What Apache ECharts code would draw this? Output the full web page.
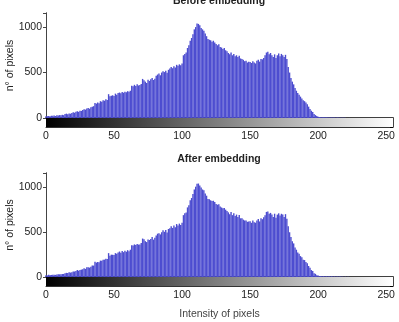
<!DOCTYPE html>
<html>
<head>
<meta charset="utf-8">
<script src="https://cdn.jsdelivr.net/npm/echarts@6/dist/echarts.min.js"></script>
<style>
  html, body { margin: 0; padding: 0; background: #fff; }
  #chart { width: 399px; height: 322px; }
</style>
</head>
<body>
<div id="chart"></div>
<script>
// histogram counts, one per gray level 0..255
const beforeCounts = [
  18, 20, 22, 19, 25, 24, 28, 22, 30, 27,
  32, 29, 35, 31, 45, 48, 42, 50, 47, 55,
  62, 58, 70, 75, 68, 80, 78, 88, 95, 92,
  105, 110, 102, 118, 125, 130, 165, 158, 170, 162,
  185, 178, 195, 190, 205, 198, 262, 238, 245, 250,
  242, 268, 255, 275, 280, 272, 285, 278, 290, 282,
  295, 288, 300, 355, 348, 365, 352, 370, 358, 362,
  375, 430, 415, 400, 385, 420, 408, 425, 440, 418,
  432, 465, 478, 490, 470, 500, 515, 505, 520, 498,
  530, 545, 560, 548, 570, 555, 585, 575, 590, 580,
  600, 690, 705, 720, 770, 800, 850, 880, 920, 975,
  1000, 1040, 1035, 1020, 990, 975, 960, 930, 900, 870,
  860, 855, 840, 850, 830, 815, 800, 810, 780, 775,
  760, 770, 745, 735, 715, 700, 720, 690, 705, 680,
  690, 670, 685, 655, 650, 640, 625, 630, 610, 620,
  615, 605, 625, 610, 600, 630, 640, 620, 650, 645,
  660, 690, 720, 730, 700, 715, 690, 670, 700, 660,
  690, 710, 680, 705, 690, 670, 695, 650, 560, 500,
  440, 400, 370, 330, 300, 275, 255, 235, 215, 195,
  185, 170, 150, 125, 100, 80, 65, 45, 32, 22,
  15, 11, 9, 8, 8, 7, 7, 6, 6, 5,
  6, 5, 5, 4, 5, 4, 4, 3, 3, 2,
  2, 1, 1, 1, 0, 0, 0, 0, 0, 0,
  0, 0, 0, 0, 0, 0, 0, 0, 0, 0,
  0, 0, 0, 0, 0, 0, 0, 0, 0, 0,
  0, 0, 0, 0, 0, 0
];

const afterCounts = [
  20, 18, 24, 21, 23, 26, 25, 24, 28, 30,
  30, 31, 33, 34, 43, 46, 44, 52, 49, 53,
  60, 61, 68, 77, 70, 78, 82, 86, 97, 90,
  108, 107, 104, 115, 128, 127, 168, 160, 167, 165,
  182, 181, 192, 193, 202, 201, 265, 236, 248, 247,
  245, 265, 258, 272, 283, 270, 288, 276, 292, 280,
  298, 285, 303, 352, 350, 362, 355, 367, 360, 360,
  378, 427, 418, 398, 388, 417, 411, 422, 443, 415,
  435, 462, 481, 487, 473, 497, 518, 502, 523, 495,
  533, 542, 563, 545, 573, 552, 588, 572, 593, 577,
  603, 687, 708, 717, 773, 797, 853, 877, 923, 972,
  1003, 1037, 1038, 1017, 993, 972, 963, 927, 903, 867,
  863, 852, 843, 847, 833, 812, 803, 807, 783, 772,
  763, 767, 748, 732, 718, 697, 723, 687, 708, 677,
  693, 667, 688, 652, 653, 637, 628, 627, 613, 617,
  618, 602, 628, 607, 603, 627, 643, 617, 653, 642,
  663, 687, 723, 727, 703, 712, 693, 667, 703, 657,
  693, 707, 683, 702, 693, 667, 698, 647, 563, 497,
  443, 397, 373, 327, 303, 272, 258, 232, 218, 192,
  188, 167, 153, 122, 103, 77, 68, 42, 35, 19,
  17, 9, 11, 6, 9, 6, 8, 5, 7, 4,
  7, 4, 6, 3, 5, 3, 5, 2, 3, 1,
  3, 1, 2, 0, 1, 0, 0, 0, 0, 0,
  0, 0, 0, 0, 0, 0, 0, 0, 0, 0,
  0, 0, 0, 0, 0, 0, 0, 0, 0, 0,
  0, 0, 0, 0, 0, 0
];

const titles = ["Before embedding", "After embedding"];
const grayRange = [0, 255];       // colour bar, black to white
const xRange = [0, 255];
const xStep = 50;
const yRange = [0, 1155];
const yStep = 500;

const font = "Liberation Sans";
const txt = "#222";
const frame = "#444";

// vertical placement of the two panels (histogram + colour bar)
const panels = [
  { top: 13, height: 105, barH: 9 },
  { top: 173, height: 104, barH: 9 }
];

const chart = echarts.init(document.getElementById("chart"));

const grid = [], xAxis = [], yAxis = [], series = [];

panels.forEach((p, k) => {
  const g = grid.length;
  grid.push({ left: 46, right: 6, top: p.top, height: p.height, containLabel: false, outerBoundsMode: "none" });
  grid.push({ left: 46, right: 6, top: p.top + p.height, height: p.barH, containLabel: false, outerBoundsMode: "none" });

  const base = { type: "value", min: xRange[0], max: xRange[1], interval: xStep, splitLine: { show: false } };
  // histogram bottom (zero line)
  xAxis.push(Object.assign({}, base, {
    gridIndex: g, position: "bottom",
    axisLine: { lineStyle: { color: "#000", width: 1.5 } },
    axisTick: { show: false }, axisLabel: { show: false }
  }));
  // histogram top frame
  xAxis.push(Object.assign({}, base, {
    gridIndex: g, position: "top",
    axisLine: { lineStyle: { color: frame } },
    axisTick: { inside: true, length: 3, lineStyle: { color: frame } },
    axisLabel: { show: false }
  }));
  // colour bar axis with labels
  const cb = Object.assign({}, base, {
    gridIndex: g + 1, position: "bottom",
    axisLine: { lineStyle: { color: "#333" } },
    axisTick: { inside: true, length: 8, lineStyle: { color: "#666" } },
    axisLabel: { fontFamily: font, fontSize: 10.5, color: txt, margin: 4, showMaxLabel: false }
  });
  if (k === 1) {
    Object.assign(cb, {
      name: "Intensity of pixels", nameLocation: "middle", nameGap: 23, nameMoveOverlap: false,
      nameTextStyle: { fontFamily: font, fontSize: 10.5, color: "#444" }
    });
  }
  xAxis.push(cb);

  yAxis.push({
    type: "value", gridIndex: g, position: "left", min: yRange[0], max: yRange[1], interval: yStep,
    name: "n\u00b0 of pixels", nameLocation: "middle", nameGap: 30, nameMoveOverlap: false,
    nameTextStyle: { fontFamily: font, fontSize: 10.5, color: txt },
    splitLine: { show: false },
    axisLine: { show: true, lineStyle: { color: frame } },
    axisTick: { length: 2, lineStyle: { color: frame } },
    axisLabel: { fontFamily: font, fontSize: 10.5, color: txt, margin: 4, showMaxLabel: false,
      formatter: (v) => String(v) }
  });
  yAxis.push({
    type: "value", gridIndex: g, position: "right", min: yRange[0], max: yRange[1], interval: yStep,
    splitLine: { show: false },
    axisLine: { show: true, lineStyle: { color: frame } },
    axisTick: { inside: true, length: 3, lineStyle: { color: frame } },
    axisLabel: { show: false }
  });
  yAxis.push({
    type: "value", gridIndex: g + 1, position: "left", min: 0, max: 1,
    splitLine: { show: false }, axisLine: { show: true, lineStyle: { color: frame } },
    axisTick: { show: false }, axisLabel: { show: false }
  });
  yAxis.push({
    type: "value", gridIndex: g + 1, position: "right", min: 0, max: 1, interval: 0.5,
    splitLine: { show: false }, axisLine: { show: true, lineStyle: { color: frame } },
    axisTick: { inside: true, length: 3, lineStyle: { color: "#000" } }, axisLabel: { show: false }
  });

  const counts = k === 0 ? beforeCounts : afterCounts;
  series.push({
    type: "bar", xAxisIndex: xAxis.length - 3, yAxisIndex: yAxis.length - 4,
    data: counts.map((v, i) => [i, v]),
    barWidth: 1.4,
    itemStyle: { color: "#4d4dd0" },
    silent: true
  });
  series.push({
    type: "custom", xAxisIndex: xAxis.length - 1, yAxisIndex: yAxis.length - 2,
    data: [grayRange],
    z: 1,
    renderItem: (params, api) => {
      const a = api.coord([api.value(0), 0]);
      const b = api.coord([api.value(1), 1]);
      return {
        type: "rect",
        shape: { x: a[0], y: b[1], width: b[0] - a[0], height: a[1] - b[1] },
        style: {
          fill: new echarts.graphic.LinearGradient(0, 0, 1, 0, [
            { offset: 0, color: "#000" },
            { offset: 1, color: "#fff" }
          ])
        }
      };
    }
  });
});

chart.setOption({
  animation: false,
  backgroundColor: "#fff",
  title: [
    { text: titles[0], left: 214, top: -9, textAlign: "center",
      textStyle: { fontFamily: font, fontSize: 10.5, fontWeight: "bold", color: txt } },
    { text: titles[1], left: 214, top: 149, textAlign: "center",
      textStyle: { fontFamily: font, fontSize: 10.5, fontWeight: "bold", color: txt } }
  ],
  grid: grid,
  xAxis: xAxis,
  yAxis: yAxis,
  series: series
});
</script>
</body>
</html>
